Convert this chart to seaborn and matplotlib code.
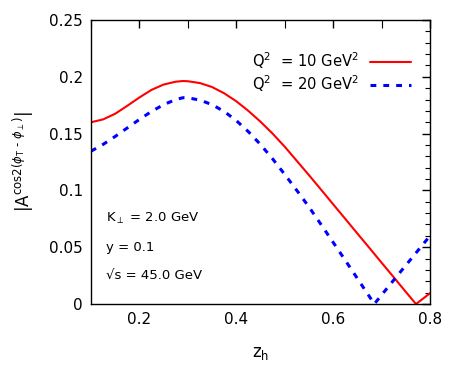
import matplotlib
matplotlib.use("Agg")
import matplotlib.pyplot as plt
from matplotlib.ticker import MultipleLocator
import seaborn as sns
import pandas as pd

# values
z_q10 = [0.10, 0.125, 0.15, 0.175, 0.20, 0.225, 0.25, 0.275, 0.29, 0.30, 0.325, 0.35,
         0.375, 0.40, 0.425, 0.45, 0.475, 0.50, 0.525, 0.55, 0.575, 0.60, 0.625, 0.65,
         0.675, 0.70, 0.725, 0.75, 0.771, 0.785, 0.80]
a_q10 = [0.160, 0.1625, 0.1675, 0.1745, 0.1818, 0.1885, 0.1932, 0.1957, 0.1963, 0.1961,
         0.1945, 0.191, 0.1855, 0.1785, 0.170, 0.1605, 0.150, 0.1385, 0.126, 0.1135,
         0.1007, 0.0878, 0.075, 0.0621, 0.0493, 0.0364, 0.0236, 0.0107, 0.0, 0.0045, 0.0095]

z_q20 = [0.10, 0.125, 0.15, 0.175, 0.20, 0.225, 0.25, 0.275, 0.29, 0.30, 0.325, 0.35,
         0.375, 0.40, 0.425, 0.45, 0.475, 0.50, 0.525, 0.55, 0.575, 0.60, 0.625, 0.65,
         0.675, 0.685, 0.70, 0.725, 0.75, 0.775, 0.80]
a_q20 = [0.1345, 0.1405, 0.1475, 0.155, 0.1625, 0.1695, 0.1755, 0.180, 0.1816, 0.1815,
         0.1795, 0.1755, 0.1695, 0.1615, 0.1517, 0.1404, 0.1278, 0.1141, 0.1, 0.0855,
         0.070, 0.0543, 0.0385, 0.0225, 0.0065, 0.0, 0.0079, 0.021, 0.034, 0.047, 0.060]

labels = ["Q$^2$  = 10 GeV$^2$", "Q$^2$  = 20 GeV$^2$"]
notes = ["K$_\\perp$ = 2.0 GeV", "y = 0.1", "\u221as = 45.0 GeV"]

df10 = pd.DataFrame({"z": z_q10, "A": a_q10})
df20 = pd.DataFrame({"z": z_q20, "A": a_q20})

sns.set_style("white")
plt.rcParams["font.family"] = ["DejaVu Sans"]
plt.rcParams["mathtext.fontset"] = "dejavusans"
plt.rcParams["font.size"] = 11
plt.rcParams["text.color"] = "black"
plt.rcParams["axes.labelcolor"] = "black"
plt.rcParams["xtick.color"] = "black"
plt.rcParams["ytick.color"] = "black"

fig = plt.figure(figsize=(4.63, 3.82), dpi=100)
ax = fig.add_axes([0.1965, 0.2042, 0.7322, 0.7434])

sns.lineplot(data=df10, x="z", y="A", ax=ax, color="#ff0000", lw=1.5, label=labels[0])
sns.lineplot(data=df20, x="z", y="A", ax=ax, color="#0000ff", lw=2.2, label=labels[1])
ax.lines[1].set_dashes((1.9, 2.3))

ax.set_xlim(0.1, 0.8)
ax.set_ylim(0, 0.25)
ax.xaxis.set_minor_locator(MultipleLocator(0.1))
ax.yaxis.set_minor_locator(MultipleLocator(0.01))
ax.set_xticks([0.2, 0.4, 0.6, 0.8])
ax.set_xticklabels(["0.2", "0.4", "0.6", "0.8"])
ax.set_yticks([0, 0.05, 0.1, 0.15, 0.2, 0.25])
ax.set_yticklabels(["0", "0.05", "0.1", "0.15", "0.2", "0.25"])
ax.tick_params(which="major", direction="in", length=6, width=1, top=True, right=True,
               labelsize=11, pad=6)
ax.tick_params(which="minor", direction="in", length=3.5, width=0.8, top=True, right=True)
ax.tick_params(axis="x", which="minor", length=6)
for s in ax.spines.values():
    s.set_color("black")
    s.set_linewidth(1)

ax.set_xlabel("z$_\\mathrm{h}$", fontsize=12, labelpad=12)
ax.set_ylabel("|A$^{\\mathrm{cos2(}\\phi_\\mathrm{T}\\ \\mathrm{\u2010}\\ \\phi_\\perp\\mathrm{)}}$|",
              fontsize=12, labelpad=9)

for i, t in enumerate(notes):
    ax.text(0.13, 0.075 - i * 0.025, t, fontsize=9.5, va="center", ha="left")

leg = ax.legend(loc="upper right", bbox_to_anchor=(0.944, 0.894), frameon=False,
                markerfirst=False, fontsize=10.6, handlelength=2.8, handletextpad=0.75,
                labelspacing=0.2, borderaxespad=0, borderpad=0)

fig.savefig("out.png", dpi=100)
